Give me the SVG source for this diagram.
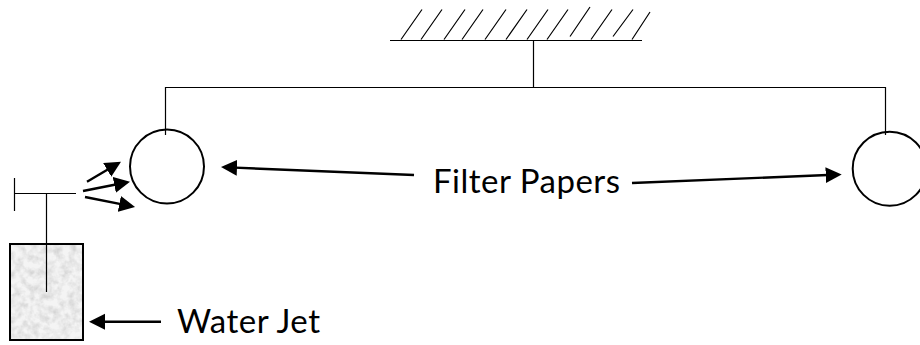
<svg xmlns="http://www.w3.org/2000/svg" width="920" height="345" viewBox="0 0 920 345">
<style>
.thin{fill:none;stroke:#000;stroke-width:1.2}
.ring{fill:#fff;stroke:#000;stroke-width:2}
.arrow{fill:none;stroke:#000;stroke-width:2.4;marker-end:url(#head)}
.label{font-family:"Lato","Carlito","Open Sans",sans-serif;font-size:33px;letter-spacing:.5px;fill:#000}
</style>
<defs>
<marker id="head" markerUnits="userSpaceOnUse" markerWidth="18" markerHeight="17" refX="8" refY="8" orient="auto">
<path d="M0 0L16 8L0 16Z" fill="#000"/>
</marker>
<filter id="speckle" x="0" y="0" width="100%" height="100%">
<feTurbulence type="fractalNoise" baseFrequency="0.13" numOctaves="3" seed="4"/>
<feColorMatrix type="matrix" values="0 0 0 0 0.5  0 0 0 0 0.5  0 0 0 0 0.5  0.9 0.9 0 0 -0.72"/>
<feComposite in2="SourceGraphic" operator="over"/>
</filter>
</defs>
<rect width="920" height="345" fill="#fff"/>
<g id="support">
<path class="thin" d="M390 40.500H642"/>
<path class="thin" d="M401 39.500L422 9.500M421 39.500L442 9.500M444 39.500L465 9.500M462 39.500L483 9.500M485 39.500L506 9.500M506 39.500L527 9.500M527 39.500L548 9.500M547 39.500L568 9.500M570 36.500L590 7M591 39.500L612 9.500M613 36.500L633 9.500M632 39.500L650 12"/>
</g>
<g id="connectors">
<path class="thin" d="M533.500 40V87.500M165.500 135V87.500H885.500V135"/>
<path class="arrow" d="M87 181.700L114.100 165.800"/>
<path class="arrow" d="M83 191L122.150 183.250"/>
<path class="arrow" d="M85 197L127.200 205.400"/>
<path class="arrow" d="M414 175L229 167.400"/>
<path class="arrow" d="M632 183L833.700 174.800"/>
<path class="arrow" d="M161 321.700H97"/>
</g>
<g id="filter-paper-left">
<circle class="ring" cx="167" cy="166.500" r="37"/>
<path class="thin" d="M165.500 129V135"/>
</g>
<g id="filter-paper-right">
<circle class="ring" cx="889.700" cy="168.700" r="37"/>
<path class="thin" d="M885.500 131V135"/>
</g>
<g id="water-jet">
<rect x="10" y="244" width="73" height="96" fill="#f4f4f4" filter="url(#speckle)"/>
<rect x="10" y="244" width="73" height="96" fill="none" stroke="#000" stroke-width="2"/>
<path class="thin" d="M14.500 178V211M15 193.500H76M46.500 193.500V292"/>
</g>
<g id="labels">
<text class="label" x="433" y="192.700">Filter Papers</text>
<text class="label" x="177" y="333.300">Water Jet</text>
</g>
</svg>
